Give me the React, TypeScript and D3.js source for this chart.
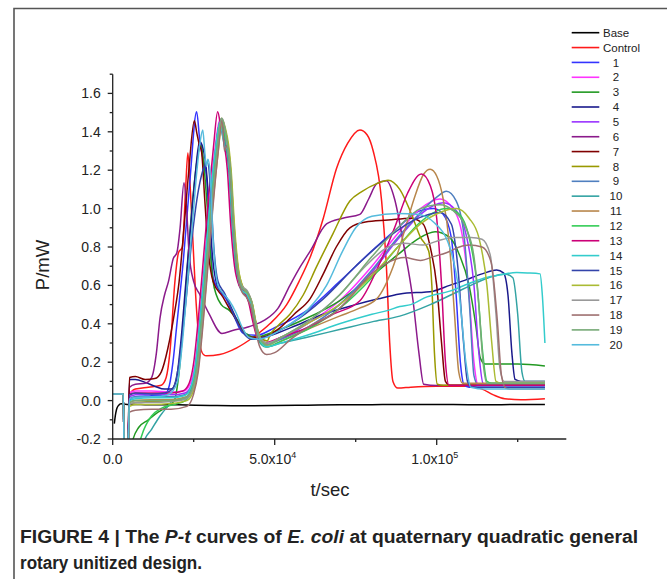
import React from "react";
import * as d3 from "d3";

// ---------- data (t in 10^3 s, P in mW) ----------
const seriesNames = ["Base", "Control", "1", "2", "3", "4", "5", "6", "7", "8", "9", "10", "11", "12", "13", "14", "15", "16", "17", "18", "19", "20"];
const seriesColors = ["#000000", "#ff1a1a", "#3333ff", "#ff33ff", "#229922", "#1a1a8c", "#9933ff", "#8b1a8b", "#800000", "#999900", "#4f7fbf", "#33a3a3", "#b8864b", "#33cc55", "#cc0077", "#33cccc", "#3344aa", "#aabb33", "#999999", "#9e6f6f", "#77aa77", "#55bbdd"];

const base = [[0.5,-0.12],[0.8,-0.08],[1.2,-0.045],[1.8,-0.025],[2.6,-0.017],[5,-0.02],[10,-0.021],[20,-0.022],[30,-0.025],[40,-0.027],[50,-0.026],[60,-0.024],[70,-0.022],[80,-0.021],[90,-0.02],[100,-0.02],[110,-0.021],[120,-0.021],[133.4,-0.02]];
const control = [[0,0.035],[3.3,0.035],[3.6,-0.5],[4.4,-0.5],[5.2,0.03],[7,0.06],[11,0.07],[15,0.08],[16.5,0.12],[17.7,0.26],[19.2,0.62],[20.3,0.77],[21.5,0.8],[22.5,1.1],[23.2,1.29],[23.9,1.12],[24.7,0.85],[25.6,0.55],[26.8,0.3],[28,0.24],[29,0.233],[33,0.24],[38.3,0.275],[43.4,0.33],[48.5,0.4],[53.7,0.5],[57.5,0.62],[60.9,0.745],[65,0.95],[69.1,1.21],[72.5,1.34],[76.3,1.41],[78.5,1.385],[80.4,1.3],[83,1.04],[84.5,0.69],[85.5,0.3],[86.5,0.1],[88,0.065],[92,0.07],[100,0.075],[110,0.075],[114,0.06],[117.5,0.03],[121,0.01],[126,0.005],[133.4,0.01]];
const s1 = [[0,0.035],[3.3,0.035],[3.6,-0.5],[4.4,-0.5],[5.2,0.0],[7,0.02],[12,0.025],[16,0.03],[17.5,0.08],[18.6,0.2],[19.7,0.38],[21.8,0.73],[23.9,1.16],[25.9,1.505],[26.9,1.35],[28,1.25],[29,1.16],[30,0.85],[31,0.64],[33.1,0.57],[35,0.53],[37.2,0.45],[40.3,0.35],[44.4,0.34],[50,0.38],[60,0.47],[70,0.62],[80,0.78],[88,0.9],[93.6,0.98],[99,1.0],[102,0.97],[104.5,0.85],[106,0.55],[107.3,0.2],[108.5,0.08],[110,0.07],[133.4,0.07]];
const s2 = [[0,0.035],[3.3,0.035],[3.6,-0.5],[4.4,-0.5],[5.2,0.04],[7,0.05],[12,0.05],[18,0.045],[22,0.05],[24,0.09],[25.5,0.2],[27,0.45],[28.5,0.75],[30,1.05],[31.5,1.3],[33,1.46],[34.1,1.41],[35.1,1.34],[36,1.22],[37,0.93],[38.2,0.7],[39.6,0.6],[41.4,0.56],[42.6,0.52],[43.6,0.44],[45.2,0.34],[47.3,0.3],[52,0.33],[60,0.4],[70,0.52],[80,0.7],[88,0.87],[95,1.0],[101,1.05],[105,1.0],[108,0.85],[110,0.55],[111.5,0.2],[112.7,0.085],[115,0.08],[133.4,0.08]];
const s3 = [[0,0.035],[3.3,0.035],[3.6,-0.5],[4.4,-0.5],[5.2,-0.35],[6,-0.22],[8,-0.14],[11,-0.1],[14,-0.06],[17,-0.03],[19,0.0],[20.5,0.15],[22,0.45],[23.5,0.8],[25,1.1],[26.5,1.3],[27.3,1.33],[28,1.25],[29,1.05],[30,0.8],[31,0.62],[32,0.55],[33.5,0.5],[36,0.47],[38.5,0.42],[41,0.35],[44,0.33],[50,0.36],[60,0.43],[70,0.52],[80,0.65],[88,0.76],[94,0.84],[99.5,0.88],[104,0.85],[107,0.76],[110,0.6],[112,0.4],[113.5,0.22],[115,0.19],[125,0.19],[133.4,0.18]];
const s4 = [[0,0.035],[3.3,0.035],[3.6,-0.5],[4.4,-0.5],[5.2,0.11],[7,0.11],[10,0.095],[13,0.075],[16,0.06],[18,0.06],[19.5,0.1],[21,0.3],[22.5,0.6],[24,0.9],[25.5,1.18],[26.8,1.35],[27.6,1.33],[28.8,1.22],[29.8,1.0],[30.8,0.75],[32.3,0.6],[35,0.54],[37.5,0.45],[40.5,0.35],[43,0.32],[47,0.33],[55,0.38],[65,0.45],[75,0.5],[82,0.53],[88.6,0.555],[98.9,0.57],[104,0.6],[109.2,0.63],[114,0.66],[118.5,0.68],[120.6,0.665],[122,0.55],[123.2,0.25],[124.2,0.11],[126,0.1],[133.4,0.1]];
const s5 = [[0,0.035],[3.3,0.035],[3.6,-0.5],[4.4,-0.5],[5.2,0.02],[7,0.03],[12,0.035],[18,0.03],[22.3,0.04],[24.3,0.08],[25.8,0.2],[27.3,0.45],[28.8,0.75],[30.3,1.05],[31.8,1.3],[33.3,1.465],[34.4,1.4],[35.3,1.335],[36.2,1.2],[37.2,0.92],[38.4,0.7],[39.8,0.6],[41.6,0.56],[42.8,0.51],[43.8,0.43],[45.4,0.33],[47.5,0.3],[52,0.32],[60,0.4],[70,0.5],[80,0.67],[88,0.84],[95,0.97],[102,1.03],[106,0.99],[109,0.87],[111.5,0.6],[113,0.25],[114.3,0.09],[116,0.08],[133.4,0.08]];
const s6 = [[0,0.035],[3.3,0.035],[3.6,-0.5],[4.4,-0.5],[5.2,0.07],[7,0.085],[10,0.09],[12,0.12],[13.5,0.25],[14.6,0.43],[16,0.55],[17.2,0.62],[18.7,0.74],[19.8,0.77],[20.8,0.9],[22,1.135],[22.8,1.0],[23.6,0.76],[25,0.62],[26.8,0.555],[29.8,0.45],[33.7,0.35],[37,0.365],[42,0.385],[47,0.42],[51,0.48],[54.7,0.6],[58,0.7],[61,0.78],[66,0.92],[71,0.95],[76.3,0.97],[79,1.05],[81.5,1.13],[84.5,1.145],[87,1.05],[89.6,0.83],[92.7,0.52],[94.5,0.25],[96,0.085],[100,0.078],[110,0.08],[120,0.082],[133.4,0.08]];
const s7 = [[0,0.035],[3.3,0.035],[3.6,-0.5],[4.4,-0.5],[5.2,0.12],[7,0.125],[10,0.11],[13,0.115],[15,0.15],[17,0.27],[19,0.45],[20.5,0.62],[22,0.9],[23.5,1.2],[25.2,1.457],[26,1.39],[26.7,1.335],[27.4,1.3],[28.4,1.05],[29.4,0.8],[31,0.62],[34,0.54],[36,0.48],[38.3,0.415],[42.4,0.33],[46,0.33],[51.7,0.38],[56,0.45],[60.9,0.53],[65,0.66],[69,0.8],[73.2,0.9],[78,0.93],[85,0.94],[92,0.95],[95.8,0.92],[98,0.8],[100,0.6],[101.5,0.3],[102.7,0.1],[104,0.08],[115,0.082],[133.4,0.085]];
const s8 = [[0,0.035],[3.3,0.035],[3.6,-0.5],[4.4,-0.5],[5.2,-0.02],[7,-0.01],[12,-0.005],[18,0.0],[22.6,0.01],[24.6,0.06],[26.1,0.18],[27.6,0.43],[29.1,0.73],[30.6,1.03],[32.1,1.28],[33.6,1.47],[34.6,1.42],[35.5,1.34],[36.4,1.2],[37.4,0.92],[38.6,0.7],[40,0.6],[41.8,0.56],[43,0.51],[44,0.42],[45.6,0.33],[47.7,0.31],[48.5,0.34],[51,0.39],[54.7,0.45],[58.8,0.55],[63,0.7],[68,0.87],[73.2,1.04],[77,1.09],[81.5,1.13],[85,1.148],[88.6,1.1],[92,0.98],[95,0.85],[97.5,0.78],[98.5,0.6],[99.3,0.25],[100.2,0.085],[102,0.08],[133.4,0.085]];
const s9 = [[0,0.035],[3.3,0.035],[3.6,-0.5],[4.4,-0.5],[5.2,0.01],[7,0.02],[12,0.02],[18,0.02],[22.2,0.03],[24.2,0.07],[25.7,0.19],[27.2,0.44],[28.7,0.74],[30.2,1.04],[31.7,1.29],[33.2,1.46],[34.2,1.4],[35.2,1.33],[36.1,1.2],[37.1,0.91],[38.3,0.69],[39.7,0.59],[41.5,0.55],[42.7,0.5],[43.7,0.42],[45.3,0.32],[47.4,0.29],[52,0.32],[60,0.38],[70,0.5],[80,0.68],[88,0.85],[95,0.98],[100,1.06],[103,1.09],[106,1.04],[108.5,0.85],[110.3,0.45],[111.5,0.13],[112.8,0.08],[133.4,0.08]];
const s10 = [[0,0.035],[3.3,0.035],[3.6,-0.5],[4.4,-0.5],[6,-0.6],[8,-0.35],[9.5,-0.22],[12,-0.15],[14.6,-0.08],[17,-0.03],[18.6,0.0],[22,0.01],[24,0.05],[25.5,0.17],[27,0.42],[28.5,0.72],[30,1.02],[31.5,1.27],[33,1.44],[34.1,1.39],[35,1.32],[35.9,1.18],[36.9,0.9],[38.1,0.68],[39.5,0.58],[41.3,0.54],[42.5,0.49],[43.5,0.41],[45.1,0.31],[47.2,0.28],[52,0.3],[60,0.33],[70,0.37],[80,0.41],[88.6,0.44],[98,0.5],[108,0.58],[116,0.64],[121,0.66],[123.5,0.64],[125,0.45],[126.3,0.15],[127.3,0.1],[133.4,0.1]];
const s11 = [[0,0.035],[3.3,0.035],[3.6,-0.5],[4.4,-0.5],[5.2,-0.01],[7,0.0],[12,0.005],[18,0.005],[22.8,0.02],[24.8,0.06],[26.3,0.18],[27.8,0.43],[29.3,0.73],[30.8,1.03],[32.3,1.28],[33.8,1.46],[34.8,1.4],[35.6,1.33],[36.5,1.18],[37.5,0.9],[38.7,0.68],[40.1,0.59],[41.9,0.55],[43.1,0.5],[44.1,0.41],[45.7,0.31],[47.8,0.28],[52,0.31],[60,0.37],[70,0.44],[76,0.48],[81.5,0.53],[86.6,0.7],[90,0.88],[93,1.05],[96,1.18],[98,1.205],[100,1.17],[102,1.05],[104,0.8],[105.5,0.45],[106.8,0.15],[108,0.09],[133.4,0.09]];
const s12 = [[0,0.035],[3.3,0.035],[3.6,-0.5],[4.4,-0.5],[5.5,-0.6],[7,-0.32],[9,-0.18],[12,-0.08],[15,-0.04],[19,-0.02],[22.4,0.0],[24.4,0.05],[25.9,0.17],[27.4,0.42],[28.9,0.72],[30.4,1.02],[31.9,1.27],[33.4,1.45],[34.4,1.39],[35.3,1.33],[36.2,1.19],[37.2,0.9],[38.4,0.68],[39.8,0.58],[41.6,0.54],[42.8,0.49],[43.8,0.41],[45.4,0.31],[47.5,0.28],[52,0.31],[60,0.37],[70,0.48],[80,0.64],[88,0.8],[95,0.93],[103,1.0],[107,0.97],[110,0.85],[112.5,0.6],[114.2,0.25],[115.5,0.1],[117,0.09],[133.4,0.09]];
const s13 = [[0,0.035],[3.3,0.035],[3.6,-0.5],[4.4,-0.5],[5.2,0.03],[7,0.04],[12,0.04],[18,0.04],[21.6,0.05],[23.6,0.09],[25.1,0.21],[26.6,0.46],[28.1,0.76],[29.6,1.06],[31.1,1.32],[32.4,1.505],[33.4,1.42],[34.4,1.34],[35.4,1.2],[36.4,0.92],[37.6,0.7],[39,0.6],[40.8,0.56],[42,0.51],[43,0.43],[44.6,0.33],[46.7,0.3],[52,0.33],[60,0.38],[68,0.45],[76.3,0.52],[82,0.7],[87,0.9],[91,1.08],[95.3,1.18],[98,1.12],[100,0.95],[101.5,0.6],[102.7,0.2],[103.8,0.08],[106,0.08],[133.4,0.08]];
const s14 = [[0,0.035],[3.3,0.035],[3.6,-0.5],[4.4,-0.5],[5.2,0.0],[7,0.01],[12,0.015],[18,0.015],[22.1,0.025],[24.1,0.07],[25.6,0.19],[27.1,0.44],[28.6,0.74],[30.1,1.04],[31.6,1.29],[33.1,1.45],[34.1,1.36],[34.8,1.31],[35.4,1.32],[36.2,1.15],[37.1,0.9],[38.3,0.68],[39.7,0.58],[41.5,0.55],[42.7,0.5],[43.7,0.42],[45.3,0.32],[47.4,0.28],[52,0.3],[60,0.34],[70,0.4],[80,0.45],[85,0.47],[88.6,0.49],[92,0.5],[97,0.54],[104,0.57],[110,0.61],[115,0.64],[119.5,0.655],[124.7,0.667],[128,0.665],[131.9,0.66],[132.6,0.55],[133.4,0.3]];
const s15 = [[0,0.035],[3.3,0.035],[3.6,-0.5],[4.4,-0.5],[5.2,0.03],[7,0.04],[12,0.035],[16,0.04],[18.5,0.06],[20.5,0.2],[22.5,0.5],[24.5,0.85],[26.5,1.1],[28.3,1.22],[29.3,1.24],[30.2,1.1],[31.2,0.8],[32.5,0.62],[34.5,0.56],[37,0.46],[40,0.36],[43,0.32],[47,0.33],[55,0.4],[65,0.53],[75,0.7],[85,0.85],[93,0.94],[101,0.98],[104.5,0.92],[106.5,0.7],[108.3,0.3],[109.5,0.1],[111,0.07],[133.4,0.07]];
const s16 = [[0,0.035],[3.3,0.035],[3.6,-0.5],[4.4,-0.5],[5.2,-0.03],[7,-0.02],[12,-0.02],[18,-0.015],[22.9,0.0],[24.9,0.05],[26.4,0.17],[27.9,0.42],[29.4,0.72],[30.9,1.02],[32.4,1.27],[33.9,1.46],[34.9,1.41],[35.7,1.34],[36.6,1.19],[37.6,0.91],[38.8,0.69],[40.2,0.59],[42,0.55],[43.2,0.5],[44.2,0.41],[45.8,0.31],[47.9,0.29],[52,0.33],[60,0.4],[70,0.5],[80,0.65],[88,0.8],[95,0.92],[101,0.98],[106,1.0],[110,0.95],[113,0.85],[115.5,0.6],[117,0.3],[118.3,0.1],[120,0.09],[133.4,0.09]];
const s17 = [[0,0.035],[3.3,0.035],[3.6,-0.5],[4.4,-0.5],[5.2,-0.02],[7,-0.01],[12,-0.01],[18,-0.005],[22.7,0.01],[24.7,0.06],[26.2,0.18],[27.7,0.43],[29.2,0.73],[30.7,1.03],[32.2,1.28],[33.7,1.47],[34.5,1.43],[35.2,1.34],[36.2,1.22],[37.2,0.93],[38.4,0.7],[39.8,0.6],[41.6,0.57],[42.8,0.52],[43.8,0.43],[45.4,0.33],[47.5,0.3],[52,0.33],[60,0.41],[70,0.55],[78,0.7],[85,0.8],[90,0.82],[95.8,0.81],[100,0.83],[105,0.85],[110.6,0.85],[114,0.84],[116.5,0.76],[118.3,0.45],[119.5,0.17],[120.8,0.1],[122,0.1],[133.4,0.1]];
const s18 = [[0,0.035],[3.3,0.035],[3.6,-0.5],[4.4,-0.5],[5.2,-0.06],[7,-0.05],[12,-0.045],[18,-0.045],[22.9,-0.03],[24.9,0.03],[26.4,0.15],[27.9,0.4],[29.4,0.7],[30.9,1.0],[32.4,1.27],[33.8,1.46],[34.5,1.3],[35.3,1.33],[36.2,1.2],[37.2,0.92],[38.4,0.68],[39.8,0.57],[41.6,0.53],[42.8,0.48],[43.8,0.39],[45.4,0.28],[47.5,0.24],[50,0.25],[55,0.32],[62,0.4],[68,0.45],[74,0.55],[78,0.63],[85,0.72],[90,0.745],[95,0.73],[99,0.75],[103,0.77],[107,0.8],[110,0.81],[114,0.8],[116.8,0.72],[118.7,0.42],[120,0.13],[121.3,0.065],[123,0.06],[133.4,0.06]];
const s19 = [[0,0.035],[3.3,0.035],[3.6,-0.5],[4.4,-0.5],[5.2,-0.01],[7,0.0],[12,0.0],[18,0.0],[22.5,0.015],[24.5,0.06],[26,0.18],[27.5,0.43],[29,0.73],[30.5,1.03],[32,1.28],[33.5,1.47],[34.6,1.42],[35.4,1.34],[36.3,1.21],[37.3,0.92],[38.5,0.69],[39.9,0.59],[41.7,0.56],[42.9,0.51],[43.9,0.42],[45.5,0.32],[47.6,0.29],[52,0.33],[60,0.41],[70,0.55],[80,0.75],[88,0.9],[95,1.0],[101,1.02],[105,0.99],[109,0.9],[111.5,0.75],[113,0.5],[114.3,0.2],[115.5,0.09],[117,0.09],[133.4,0.09]];
const s20 = [[0,0.035],[3.3,0.035],[3.6,-0.5],[4.4,-0.5],[5.2,0.01],[7,0.015],[12,0.02],[16,0.025],[18,0.04],[20,0.1],[21.5,0.3],[23,0.6],[24.5,0.9],[26,1.2],[27,1.35],[27.8,1.41],[28.4,1.3],[28.9,1.22],[29.4,1.257],[30,1.2],[30.8,0.9],[31.6,0.7],[32.5,0.6],[34,0.56],[36,0.52],[38,0.46],[40,0.38],[42,0.33],[45,0.32],[52,0.37],[60,0.47],[66,0.6],[71,0.78],[75,0.9],[80,0.96],[88,0.975],[94,0.97],[99,0.93],[104,0.8],[107,0.55],[109,0.2],[110.5,0.07],[115,0.06],[133.4,0.06]];

const seriesData = [base, control, s1, s2, s3, s4, s5, s6, s7, s8, s9, s10, s11, s12, s13, s14, s15, s16, s17, s18, s19, s20];

const yMajorTicks = [-0.2, 0.0, 0.2, 0.4, 0.6, 0.8, 1.0, 1.2, 1.4, 1.6];
const yMinorTicks = [-0.1, 0.1, 0.3, 0.5, 0.7, 0.9, 1.1, 1.3, 1.5, 1.7];
const xMajorTicks = [0, 50, 100];
const xMajorLabels = [["0.0", ""], ["5.0x10", "4"], ["1.0x10", "5"]];
const xMinorTicks = [25, 75, 125];

const W = 667, H = 579;
const FONT = "Liberation Sans, Arial, Helvetica, sans-serif";

export default function App() {
  const x = d3.scaleLinear().domain([0, 140]).range([112.7, 566.3]);
  const y = d3.scaleLinear().domain([-0.2, 1.7]).range([439, 74.2]);
  const line = d3.line<number[]>().x(d => x(d[0])).y(d => y(d[1])).curve(d3.curveMonotoneX);

  const legendY0 = 32.7, legendStep = 14.86;

  return (
    <svg width={W} height={H} style={{ position: "absolute", left: 0, top: 0, background: "#fff" }} fontFamily={FONT}>
      <rect x={0} y={0} width={W} height={H} fill="#fff" />
      {/* frame */}
      <path d={`M14,${H} L14,8.5 L${W},8.5`} fill="none" stroke="#555" strokeWidth={1.6} />
      <defs>
        <clipPath id="plotClip">
          <rect x={x(0)} y={y(1.7)} width={x(140) - x(0)} height={y(-0.2) - y(1.7)} />
        </clipPath>
      </defs>
      {/* curves */}
      <g clipPath="url(#plotClip)">
        {seriesData.map((d, i) => (
          <path key={i} d={line(d) || ""} fill="none" stroke={seriesColors[i]} strokeWidth={1.5} strokeLinejoin="round" />
        ))}
      </g>
      {/* axes */}
      <g stroke="#222" strokeWidth={1.3} fill="none">
        <line x1={x(0)} y1={y(-0.2)} x2={x(0)} y2={y(1.7)} />
        <line x1={x(0)} y1={y(-0.2)} x2={x(140)} y2={y(-0.2)} />
        {yMajorTicks.map(v => <line key={"ym" + v} x1={x(0) - 5} x2={x(0)} y1={y(v)} y2={y(v)} />)}
        {yMinorTicks.map(v => <line key={"yn" + v} x1={x(0) - 3} x2={x(0)} y1={y(v)} y2={y(v)} />)}
        {xMajorTicks.map(v => <line key={"xm" + v} x1={x(v)} x2={x(v)} y1={y(-0.2)} y2={y(-0.2) + 6} />)}
        {xMinorTicks.map(v => <line key={"xn" + v} x1={x(v)} x2={x(v)} y1={y(-0.2)} y2={y(-0.2) + 3} />)}
      </g>
      <g fill="#222" fontSize={14}>
        {yMajorTicks.map(v => (
          <text key={"yl" + v} x={x(0) - 12} y={y(v)} dy="0.36em" textAnchor="end">{v.toFixed(1)}</text>
        ))}
        {xMajorTicks.map((v, i) => (
          <text key={"xl" + v} x={x(v) - (xMajorLabels[i][1] ? 2 : 0)} y={463.5} textAnchor="middle">
            {xMajorLabels[i][0]}
            {xMajorLabels[i][1] ? <tspan fontSize={9} dy={-6}>{xMajorLabels[i][1]}</tspan> : null}
          </text>
        ))}
      </g>
      <text x={330} y={496} fontSize={18.5} textAnchor="middle" fill="#222">t/sec</text>
      <text transform="translate(49,265) rotate(-90)" fontSize={18.5} textAnchor="middle" fill="#222">P/mW</text>
      {/* legend */}
      <g fontSize={11.5} fill="#222">
        {seriesNames.map((n, i) => {
          const ly = legendY0 + i * legendStep;
          const isWord = i < 2;
          return (
            <g key={"lg" + n}>
              <line x1={571.7} x2={599.3} y1={ly} y2={ly} stroke={seriesColors[i]} strokeWidth={1.6} />
              <text x={isWord ? 603 : 616} y={ly} dy="0.36em" textAnchor={isWord ? "start" : "middle"}>{n}</text>
            </g>
          );
        })}
      </g>
      {/* caption */}
      <g fontSize={18} fontWeight="bold" fill="#222">
        <text x={20} y={543} textLength={618} lengthAdjust="spacingAndGlyphs">
          FIGURE 4 | The <tspan fontStyle="italic">P-t</tspan> curves of <tspan fontStyle="italic">E. coli</tspan> at quaternary quadratic general
        </text>
        <text x={20} y={569} textLength={182} lengthAdjust="spacingAndGlyphs">rotary unitized design.</text>
      </g>
    </svg>
  );
}
